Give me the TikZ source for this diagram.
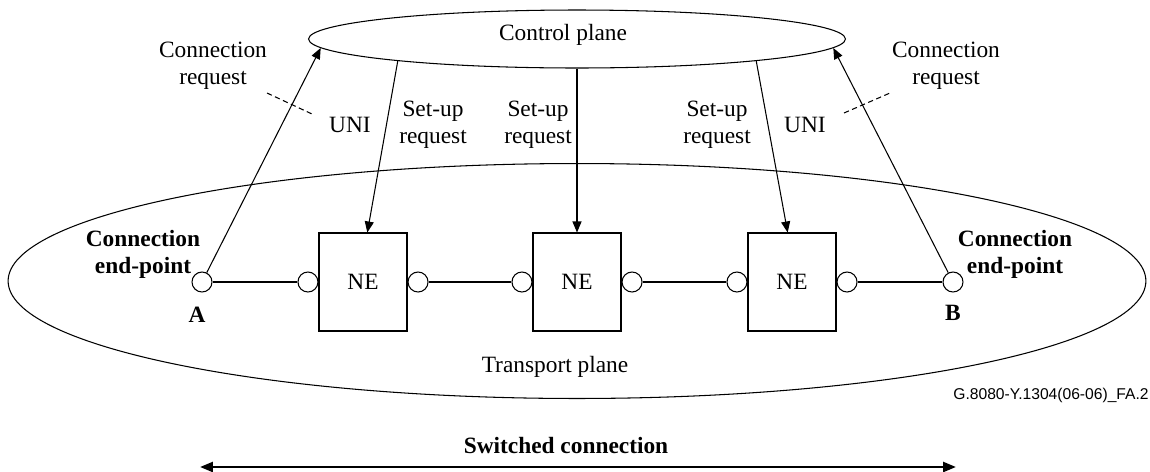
\documentclass[tikz,border=0pt]{standalone}
\usepackage{fontspec}
\setmainfont{Liberation Serif}
\newfontfamily\figfont{Liberation Sans}
\usetikzlibrary{positioning,arrows.meta,shapes.geometric}

\begin{document}
\begin{tikzpicture}[
x=0.02cm, y=-0.02cm,
font=\fontsize{13.3}{15.4}\selectfont,
plane/.style={
    ellipse,
    draw=black,
    line width=0.6pt,
    inner sep=0pt
},
nebox/.style={
    rectangle,
    draw=black,
    line width=0.6pt,
    minimum width=1.76cm,
    minimum height=1.96cm
},
port/.style={
    circle,
    draw=black,
    fill=white,
    line width=0.6pt,
    minimum size=0.4cm,
    inner sep=0pt
},
line/.style={
    -{Triangle[length=0.22cm,width=0.18cm]},
    line width=0.6pt
},
link/.style={
    line width=0.6pt
},
lbl/.style={
    align=center,
    inner sep=0pt
},
bold/.style={
    lbl,
    font=\fontsize{13.3}{15.4}\selectfont\bfseries
}
]
\useasboundingbox (0,0) rectangle (1150,471);

% Planes
\node[plane,minimum width=10.74cm,minimum height=1.16cm] (ctrl) at (577,39) {};
\node[lbl] (ctrltxt) at (563,35) {Control plane};

\node[plane,minimum width=22.76cm,minimum height=4.7cm] (trans) at (577,281) {};
\node[lbl] (transtxt) at (555,367) {Transport plane};

% Network elements
\node[nebox] (ne1) at (363,282) {NE};
\node[nebox] (ne2) at (577,282) {NE};
\node[nebox] (ne3) at (792,282) {NE};

% Ports
\node[port,left=0pt of ne1] (p1w) {};
\node[port,right=0pt of ne1] (p1e) {};
\node[port,left=0pt of ne2] (p2w) {};
\node[port,right=0pt of ne2] (p2e) {};
\node[port,left=0pt of ne3] (p3w) {};
\node[port,right=0pt of ne3] (p3e) {};

\node[port] (epa) at (202,282) {};
\node[port] (epb) at (953,282) {};

% End-points
\node[bold] (epatxt) at (143,254) {Connection\\end-point};
\node[bold] (epbtxt) at (1015,254) {Connection\\end-point};
\node[bold] (atxt) at (197,315) {A};
\node[bold] (btxt) at (953,313) {B};

% Requests
\node[lbl] (reqa) at (213,66) {Connection\\request};
\node[lbl] (reqb) at (946,66) {Connection\\request};
\node[lbl] (unia) at (350,125) {UNI};
\node[lbl] (unib) at (805,125) {UNI};
\node[lbl] (set1) at (433,125) {Set-up\\request};
\node[lbl] (set2) at (538,125) {Set-up\\request};
\node[lbl] (set3) at (717,125) {Set-up\\request};

\coordinate (unia1) at (267,93);
\coordinate (unia2) at (312,114);
\coordinate (unib1) at (844,113);
\coordinate (unib2) at (890,93);

% Connections
\draw[link] (epa) -- (p1w);
\draw[link] (p1e) -- (p2w);
\draw[link] (p2e) -- (p3w);
\draw[link] (p3e) -- (epb);

\draw[line] (epa) -- (ctrl.182);
\draw[line] (epb) -- (ctrl.-2);

\draw[line] (ctrl.187) -- (ne1.85);
\draw[line] (ctrl.south) -- (ne2.north);
\draw[line] (ctrl.-7) -- (ne3.95);

\draw[link,dash pattern=on 3pt off 2pt] (unia1) -- (unia2);
\draw[link,dash pattern=on 3pt off 2pt] (unib1) -- (unib2);

% Bottom
\node[anchor=east,inner sep=0pt,font=\figfont\fontsize{8.9}{10}\selectfont] (figid) at (1149,395)
{G.8080-Y.1304(06-06)\_FA.2};

\node[bold] (swtxt) at (566,445) {Switched connection};
\coordinate (swl) at (200,467);
\coordinate (swr) at (956,467);
\draw[{Triangle[length=0.26cm,width=0.2cm]}-{Triangle[length=0.26cm,width=0.2cm]},line width=1.4pt] (swl) -- (swr);

\end{tikzpicture}
\end{document}
